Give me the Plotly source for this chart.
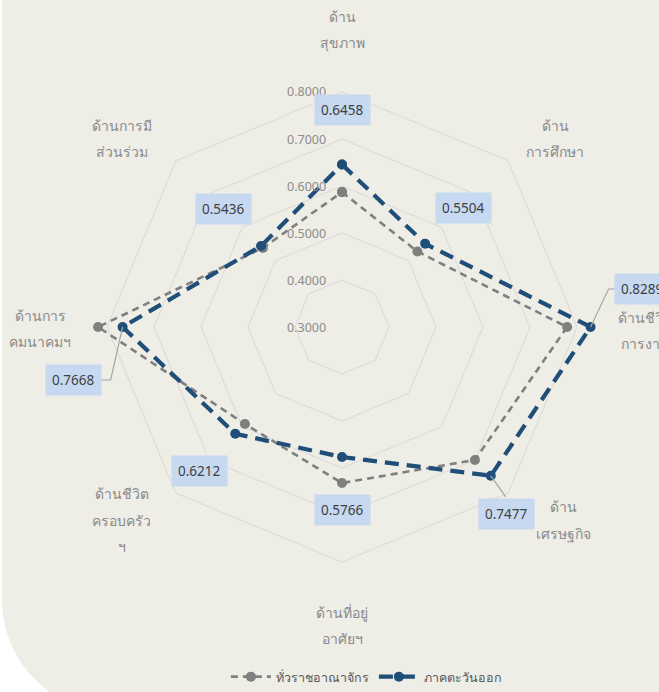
import math
import plotly.graph_objects as go

# --- data -------------------------------------------------------------
categories = [
    "ด้านสุขภาพ", "ด้านการศึกษา", "ด้านชีวิตการงาน", "ด้านเศรษฐกิจ",
    "ด้านที่อยู่อาศัยฯ", "ด้านชีวิตครอบครัวฯ", "ด้านการคมนาคมฯ", "ด้านการมีส่วนร่วม",
]
category_lines = [
    ["ด้าน", "สุขภาพ"],
    ["ด้าน", "การศึกษา"],
    ["ด้านชีวิต", "การงาน"],
    ["ด้าน", "เศรษฐกิจ"],
    ["ด้านที่อยู่", "อาศัยฯ"],
    ["ด้านชีวิต", "ครอบครัว", "ฯ"],
    ["ด้านการ", "คมนาคมฯ"],
    ["ด้านการมี", "ส่วนร่วม"],
]
series_names = ["ทั่วราชอาณาจักร", "ภาคตะวันออก"]
whole_kingdom = [0.587, 0.527, 0.779, 0.700, 0.632, 0.592, 0.819, 0.538]
eastern = [0.6458, 0.5504, 0.8289, 0.7477, 0.5766, 0.6212, 0.7668, 0.5436]
radial_ticks = [0.3, 0.4, 0.5, 0.6, 0.7, 0.8]

# --- geometry ---------------------------------------------------------
W, H = 659, 692
CX, CY = 342, 327          # chart centre in pixels
RAD = 235                  # pixel radius of the 0.8 ring
RMIN, RMAX = 0.3, 0.8
RMAX_AXIS = 0.85           # axis extends a little past the last ring so no point is clipped
RAD_AXIS = RAD * (RMAX_AXIS - RMIN) / (RMAX - RMIN)

BEIGE = "#EEEDE6"
GRID = "#D9D9D9"
GREY = "#7F7F7F"
BLUE = "#1F4E79"
LABEL_GREY = "#8A8A8A"


def px(x, y):
    return x / W, 1 - y / H


def point_px(i, v):
    ang = math.radians(90 - i * 360 / len(categories))
    r = (v - RMIN) / (RMAX - RMIN) * RAD
    return CX + r * math.cos(ang), CY - r * math.sin(ang)


fig = go.Figure()
closed_theta = categories + categories[:1]
fig.add_trace(go.Scatterpolar(
    r=whole_kingdom + whole_kingdom[:1], theta=closed_theta, name=series_names[0],
    mode="lines+markers", cliponaxis=False,
    line=dict(color=GREY, width=2.6, dash="7px,5px"),
    marker=dict(color=GREY, size=10, symbol="circle"),
))
fig.add_trace(go.Scatterpolar(
    r=eastern + eastern[:1], theta=closed_theta, name=series_names[1],
    mode="lines+markers", cliponaxis=False,
    line=dict(color=BLUE, width=4.2, dash="14px,8px"),
    marker=dict(color=BLUE, size=10, symbol="circle"),
))

annotations = []
shapes = []

# beige chart area with rounded lower-left corner
shapes.append(dict(
    type="path", xref="paper", yref="paper", layer="below", line=dict(width=0),
    fillcolor=BEIGE,
    path=(f"M {2/W},1.02 L 1.02,1.02 L 1.02,-0.02 L {50/W},{1-692/H} "
          f"C {20/W},{1-671/H} {2/W},{1-636.5/H} {2/W},{1-600/H} Z"),
))

# radial tick labels along the upward axis
for t in radial_ticks:
    x, y = px(CX - 14, CY - (t - RMIN) / (RMAX - RMIN) * RAD)
    annotations.append(dict(
        x=x, y=y, xref="paper", yref="paper", text=f"{t:.4f}", showarrow=False,
        xanchor="right", yanchor="middle", font=dict(size=12.5, color="#8C8C8C"),
    ))

# category labels around the chart
label_centres = [(342, 30), (555, 138), (645, 330), (563, 520),
                 (342, 625), (122, 520), (40, 329), (122, 138)]
LINE_GAP = 26
for lines, (lx, ly) in zip(category_lines, label_centres):
    top = ly - LINE_GAP * (len(lines) - 1) / 2
    for k, line in enumerate(lines):
        x, y = px(lx, top + k * LINE_GAP)
        annotations.append(dict(
            x=x, y=y, xref="paper", yref="paper", text=line, showarrow=False,
            xanchor="center", yanchor="middle", font=dict(size=14, color=LABEL_GREY),
        ))

# value labels for the eastern region
label_offsets = [(0, -54), (38, -36), (52, -38), (16, 38),
                 (0, 53), (-36, 37), (-49, 53), (-38, -37)]
for i, (v, (dx, dy)) in enumerate(zip(eastern, label_offsets)):
    bx, by = point_px(i, v)
    x, y = px(bx + dx, by + dy)
    annotations.append(dict(
        x=x, y=y, xref="paper", yref="paper", text=f"{v:.4f}", showarrow=False,
        xanchor="center", yanchor="middle", bgcolor="#C6D9F1", borderpad=6,
        font=dict(size=13.5, color="#404040"),
    ))

# leader lines for labels pushed away from their points
leaders = {
    2: [(0, 0), (18, -38), (26, -38)],
    3: [(0, 0), (15, 21)],
    6: [(0, 0), (-12, 53), (-22, 53)],
}
for i, pts in leaders.items():
    bx, by = point_px(i, eastern[i])
    coords = [px(bx + a, by + b) for a, b in pts]
    path = "M " + " L ".join(f"{a},{b}" for a, b in coords)
    shapes.append(dict(type="path", xref="paper", yref="paper", path=path,
                       line=dict(color="#A6A6A6", width=1.2)))

fig.update_layout(
    width=W, height=H,
    margin=dict(l=0, r=0, t=0, b=0),
    paper_bgcolor="white",
    font=dict(family="Noto Sans, DejaVu Sans, sans-serif"),
    polar=dict(
        domain=dict(x=[(CX - RAD_AXIS) / W, (CX + RAD_AXIS) / W],
                    y=[1 - (CY + RAD_AXIS) / H, 1 - (CY - RAD_AXIS) / H]),
        bgcolor="rgba(0,0,0,0)",
        gridshape="linear",
        radialaxis=dict(range=[RMIN, RMAX_AXIS], tickvals=radial_ticks, showticklabels=False,
                        showline=False, ticks="", gridcolor=GRID, gridwidth=1),
        angularaxis=dict(direction="clockwise", rotation=90, showticklabels=False,
                         ticks="", showgrid=False, showline=False),
    ),
    showlegend=True,
    legend=dict(orientation="h", x=0.556, xanchor="center", y=1 - 677 / H,
                yanchor="middle", bgcolor="rgba(0,0,0,0)", itemwidth=40,
                font=dict(size=12.5, color="#595959")),
    annotations=annotations,
    shapes=shapes,
)

fig.write_html("out.html")
